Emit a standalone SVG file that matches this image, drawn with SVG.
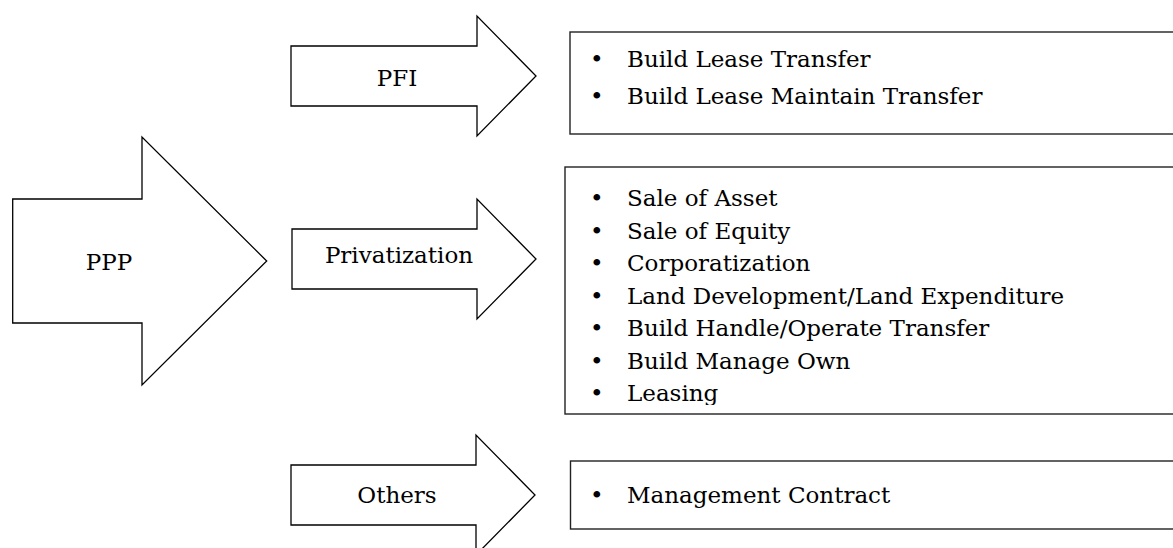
<svg xmlns="http://www.w3.org/2000/svg" width="1173" height="548" viewBox="0 0 1173 548">
<style>
.arrow{fill:#fff;stroke:#000;stroke-width:1.3;stroke-linejoin:miter}
.box{fill:#fff;stroke:#222;stroke-width:1.4}
text{font-family:"DejaVu Serif","Liberation Serif",serif;font-size:23px;fill:#000}
.c{text-anchor:middle}
</style>
<defs>
<clipPath id="clip2"><rect x="560" y="160" width="620" height="245"/></clipPath>
</defs>
<rect width="1173" height="548" fill="#fff"/>
<g id="connectors"></g>
<g id="ppp">
<polygon class="arrow" points="12.7,199 142,199 142,137 266.7,261 142,385 142,323 12.7,323"/>
<text class="c" x="109" y="270">PPP</text>
</g>
<g id="pfi">
<polygon class="arrow" points="291,46 477,46 477,16 536,76 477,136 477,106 291,106"/>
<text class="c" x="397" y="86">PFI</text>
</g>
<g id="privatization">
<polygon class="arrow" points="292,229 477,229 477,199 536,259 477,319 477,289 292,289"/>
<text class="c" x="399" y="263">Privatization</text>
</g>
<g id="others">
<polygon class="arrow" points="291,465 476,465 476,435 535,495 476,555 476,525 291,525"/>
<text class="c" x="397" y="503">Others</text>
</g>
<g id="box-pfi">
<rect class="box" x="570" y="32" width="620" height="102"/>
<text x="590" y="67">•</text><text x="627" y="67">Build Lease Transfer</text>
<text x="590" y="104">•</text><text x="627" y="104">Build Lease Maintain Transfer</text>
</g>
<g id="box-privatization">
<rect class="box" x="565" y="167" width="620" height="247"/>
<g clip-path="url(#clip2)">
<text x="590" y="206">•</text><text x="627" y="206">Sale of Asset</text>
<text x="590" y="238.5">•</text><text x="627" y="238.5">Sale of Equity</text>
<text x="590" y="271">•</text><text x="627" y="271">Corporatization</text>
<text x="590" y="303.5">•</text><text x="627" y="303.5">Land Development/Land Expenditure</text>
<text x="590" y="336">•</text><text x="627" y="336">Build Handle/Operate Transfer</text>
<text x="590" y="368.5">•</text><text x="627" y="368.5">Build Manage Own</text>
<text x="590" y="401">•</text><text x="627" y="401">Leasing</text>
</g>
</g>
<g id="box-others">
<rect class="box" x="570.5" y="461" width="620" height="68"/>
<text x="590" y="503">•</text><text x="627" y="503">Management Contract</text>
</g>
</svg>
